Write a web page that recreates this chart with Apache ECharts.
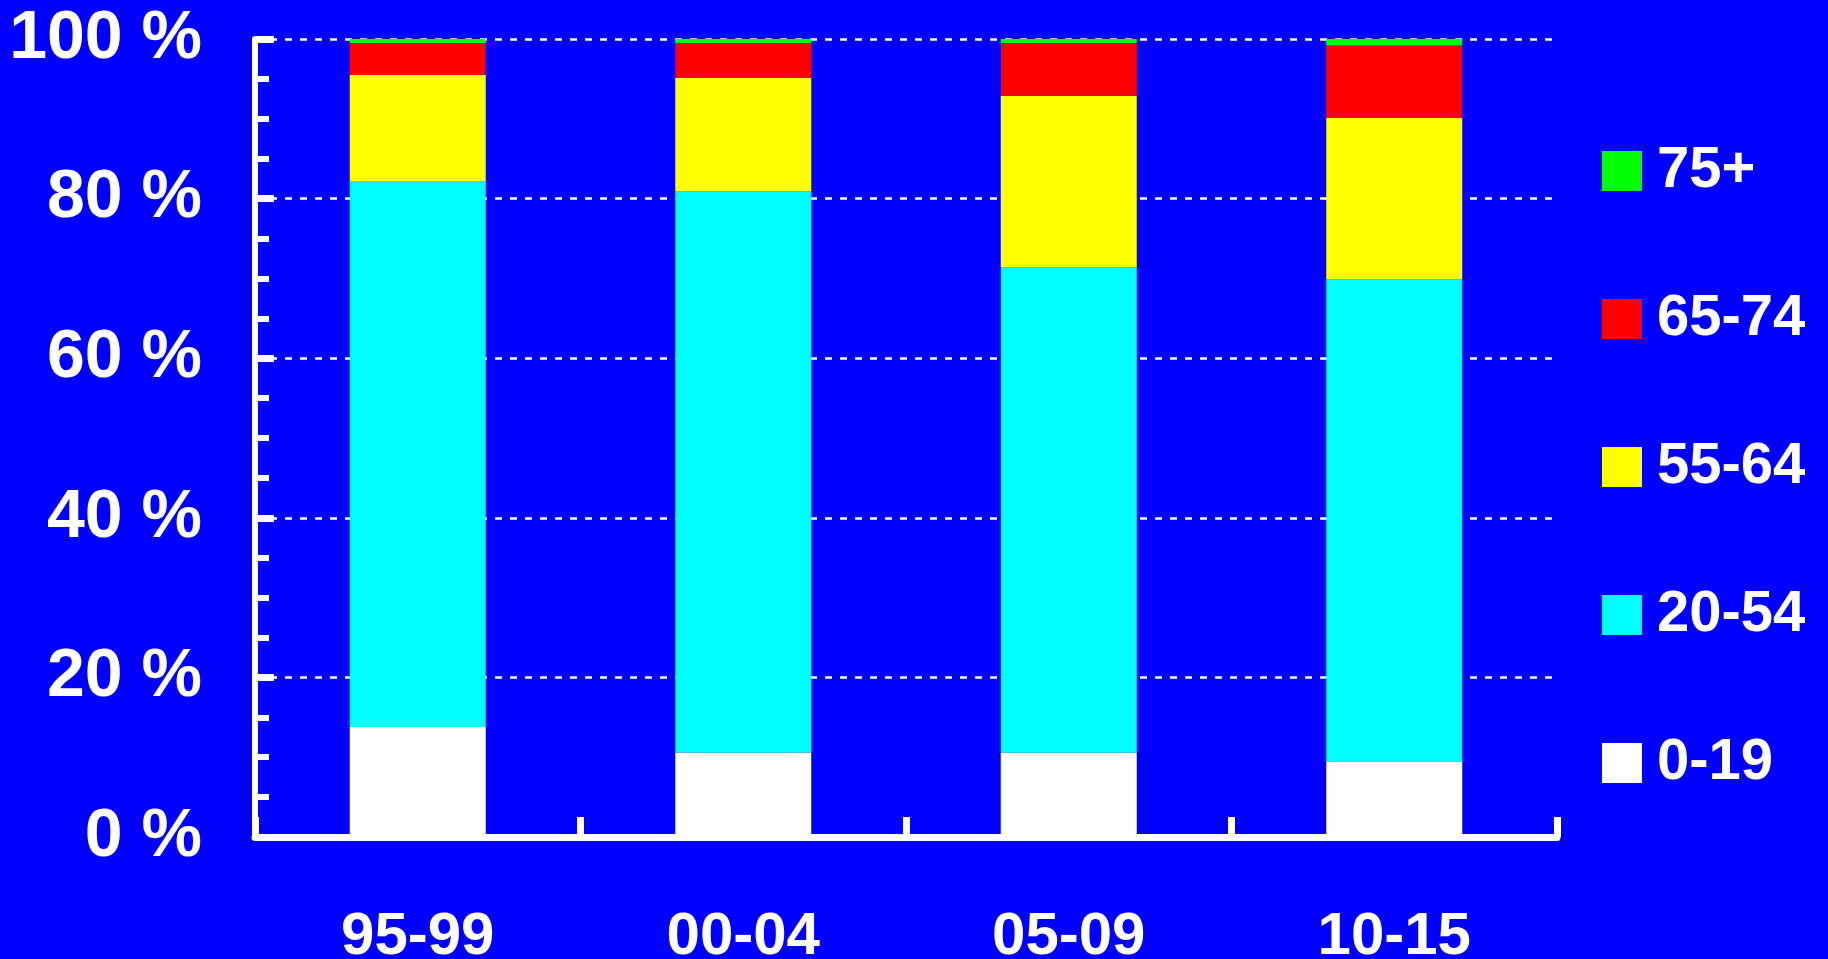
<!DOCTYPE html>
<html>
<head>
<meta charset="utf-8">
<script src="https://cdn.jsdelivr.net/npm/echarts@6/dist/echarts.min.js"></script>
<style>
html,body{margin:0;padding:0;background:#0000FF;}
#chart{width:1828px;height:959px;}
</style>
</head>
<body>
<div id="chart"></div>
<script>
const categories = ['95-99', '00-04', '05-09', '10-15'];
const age0_19  = [13.8, 10.6, 10.6, 9.4];
const age20_54 = [68.4, 70.3, 60.8, 60.5];
const age55_64 = [13.3, 14.2, 21.5, 20.2];
const age65_74 = [4.0, 4.4, 6.6, 9.1];
const age75p   = [0.5, 0.5, 0.5, 0.8];
const seriesNames = ['0-19', '20-54', '55-64', '65-74', '75+'];
const seriesColors = ['#FFFFFF', '#00FFFF', '#FFFF00', '#FF0000', '#00FF00'];
const yTicks = [0, 20, 40, 60, 80, 100];

const font = '"Liberation Sans", Arial, Helvetica, sans-serif';
const chart = echarts.init(document.getElementById('chart'));
const allData = [age0_19, age20_54, age55_64, age65_74, age75p];

chart.setOption({
  backgroundColor: '#0000FF',
  animation: false,
  grid: { left: 255, right: 271, top: 39, bottom: 122, containLabel: false, outerBoundsMode: 'none' },
  legend: {
    orient: 'vertical',
    left: 1602,
    top: 142,
    padding: 0,
    itemWidth: 40,
    itemHeight: 40,
    itemGap: 90,
    icon: 'rect',
    data: seriesNames.slice().reverse(),
    textStyle: { color: '#FFFFFF', fontSize: 58, fontWeight: 'bold', fontFamily: font, lineHeight: 40, padding: [0, 0, 0, 10] }
  },
  xAxis: {
    type: 'category',
    data: categories,
    boundaryGap: true,
    axisLine: { show: true, lineStyle: { color: '#FFFFFF', width: 7 } },
    axisTick: { show: true, inside: true, length: 20, alignWithLabel: false, lineStyle: { color: '#FFFFFF', width: 7 } },
    axisLabel: { color: '#FFFFFF', fontSize: 60, fontWeight: 'bold', fontFamily: font, margin: 70 },
    splitLine: { show: false }
  },
  yAxis: {
    type: 'value',
    min: yTicks[0],
    max: yTicks[yTicks.length - 1],
    interval: 20,
    axisLine: { show: true, lineStyle: { color: '#FFFFFF', width: 6 } },
    axisTick: { show: true, inside: true, length: 19, lineStyle: { color: '#FFFFFF', width: 7 } },
    minorTick: { show: true, splitNumber: 4, length: 14, lineStyle: { color: '#FFFFFF', width: 6 } },
    axisLabel: { color: '#FFFFFF', fontSize: 68, fontWeight: 'bold', fontFamily: font, margin: 53, formatter: '{value} %' },
    splitLine: { show: true, lineStyle: { color: '#FFFFFF', width: 2.5, type: [7, 8] } }
  },
  series: seriesNames.map((name, i) => ({
    name: name,
    type: 'bar',
    stack: 'total',
    barWidth: 136,
    data: allData[i],
    itemStyle: { color: seriesColors[i] },
    z: 3
  }))
});
</script>
</body>
</html>
